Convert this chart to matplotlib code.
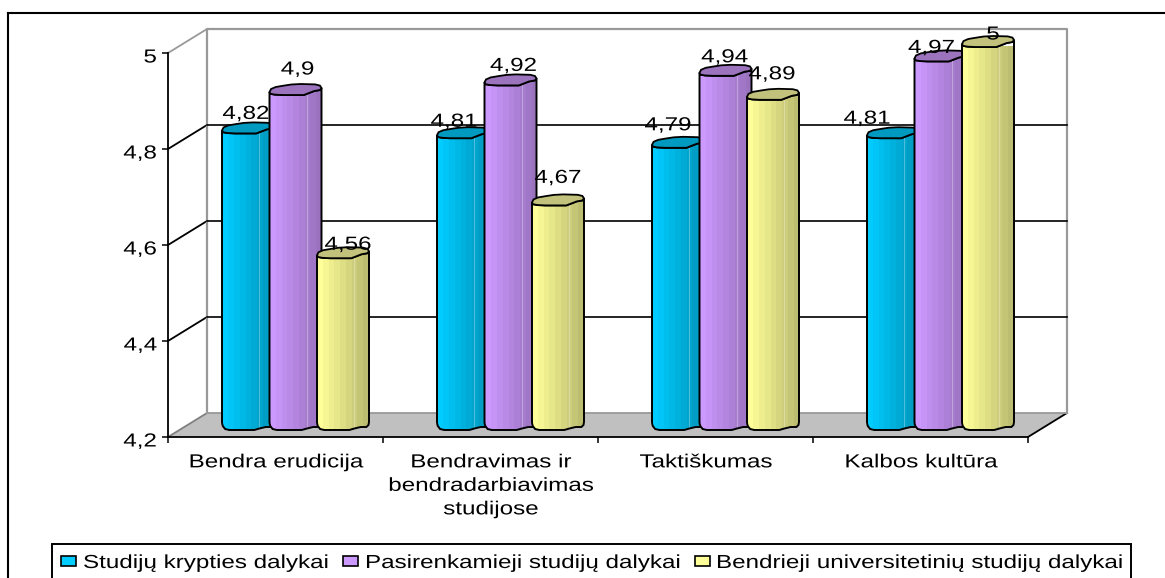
#!/usr/bin/env python3
"""Pseudo-3D cylinder column chart, Excel style."""
import matplotlib

matplotlib.use("Agg")
import matplotlib.pyplot as plt
import numpy as np
from matplotlib.colors import LinearSegmentedColormap
from matplotlib.lines import Line2D
from matplotlib.patches import PathPatch, Polygon, Rectangle
from matplotlib.path import Path
from matplotlib.patheffects import AbstractPathEffect
from matplotlib.transforms import Affine2D

plt.rcParams["font.family"] = ["Liberation Sans", "DejaVu Sans"]

categories = ["Bendra erudicija", "Bendravimas ir\nbendradarbiavimas\nstudijose", "Taktiškumas", "Kalbos kultūra"]
series_names = ["Studijų krypties dalykai", "Pasirenkamieji studijų dalykai", "Bendrieji universitetinių studijų dalykai"]
krypties = [4.82, 4.81, 4.79, 4.81]
pasirenkamieji = [4.9, 4.92, 4.94, 4.97]
bendrieji = [4.56, 4.67, 4.89, 5]
y_ticks = [4.2, 4.4, 4.6, 4.8, 5]
y_labels = ["4,2", "4,4", "4,6", "4,8", "5"]
value_labels = [
    ["4,82", "4,81", "4,79", "4,81"],
    ["4,9", "4,92", "4,94", "4,97"],
    ["4,56", "4,67", "4,89", "5"],
]

# label offsets from the top of each bar, pixels (the original has them hand-placed)
label_dx = [[-2, -9, -10, -26], [2, 3, -1, -9], [5, 0, -1, 5]]
label_dy = [[18, 15, 21, 18], [24, 18, 17, 12], [12, 26, 24, 11]]

# legend layout in pixels: swatch left edge, text left edge
legend_swatch_x = [61, 343, 695]
legend_text_x = [83, 365, 716]

light = ["#00CCFF", "#CC99FF", "#FFFF99"]
dark = ["#0097BD", "#9A72BE", "#BDBD72"]
cap = ["#0099BF", "#9B74BD", "#C2C27C"]

W, H = 1165, 578
FS = 13.6
TEXT_COLOR = "black"
STRETCH = 1.28  # the source image is squeezed vertically, so its Arial runs wide


class StretchX(AbstractPathEffect):
    """Widen a text's glyphs about its left, centre or right edge."""

    def __init__(self, text, anchor="center", sx=STRETCH, dy=0):
        super().__init__()
        self.text, self.anchor, self.sx, self.dy = text, anchor, sx, dy

    def draw_path(self, renderer, gc, tpath, affine, rgbFace=None):
        box = self.text.get_window_extent(renderer)
        px = {"left": box.x0, "center": (box.x0 + box.x1) / 2, "right": box.x1}[self.anchor]
        wide = affine + Affine2D().translate(-px, 0).scale(self.sx, 1).translate(px, self.dy)
        renderer.draw_path(gc, tpath, wide, rgbFace)


def stretch(text, anchor="center", dy=0):
    text.set_path_effects([StretchX(text, anchor, dy=dy)])


def fig_box(left, top, right, bottom):
    return [left / W, 1 - bottom / H, (right - left) / W, (bottom - top) / H]


fig = plt.figure(figsize=(W / 100, H / 100), dpi=100)

# outer chart border, open on the right and bottom
fig.add_artist(Line2D([7.5 / W, 7.5 / W], [0, 1 - 13 / H], color="black", lw=1.5))
fig.add_artist(Line2D([7.5 / W, 1], [1 - 13 / H, 1 - 13 / H], color="black", lw=1.5))

# front plane: real axis, ticks and labels
ax = fig.add_axes(fig_box(168, 53, 1028, 437))
ax.set_xlim(-0.5, 3.5)
ax.set_ylim(4.2, 5)
ax.patch.set_visible(False)
for side in ("top", "right"):
    ax.spines[side].set_visible(False)
for side in ("left", "bottom"):
    ax.spines[side].set_linewidth(1.3)
ax.set_yticks(y_ticks, y_labels, fontsize=FS, color=TEXT_COLOR)
ax.tick_params(axis="y", length=4.5, width=1.1, pad=3.5)
for lab in ax.get_yticklabels():
    stretch(lab, "right", dy=-3)
ax.set_xticks(np.arange(-0.5, 4, 1))
ax.set_xticklabels([])
ax.tick_params(axis="x", length=4.5, width=1.1)
ax.set_xticks(range(4), categories, minor=True, fontsize=FS, color=TEXT_COLOR, linespacing=1.5)
ax.tick_params(axis="x", which="minor", length=0, pad=12.5)
for lab in ax.get_xticklabels(minor=True):
    stretch(lab)

# back wall and floor, the front plane shoved up and to the right
back = ax.transData + Affine2D().translate(39, 24)
x0, x1 = ax.get_xlim()
y0, y1 = ax.get_ylim()
GREY = "#999999"
to_px = ax.transData.transform
fl = np.array([to_px((x0, y0)), to_px((x1, y0)), to_px((x1, y0)) + (39, 24), to_px((x0, y0)) + (39, 24)])
fig.add_artist(Polygon(fl, closed=True, facecolor="#C0C0C0", edgecolor="none", transform=None, zorder=-2))
ax.plot([x0, x0, x1, x1], [y0, y1, y1, y0], transform=back, color=GREY, lw=1.6, clip_on=False, zorder=1)
ax.plot([x0, x1], [y0, y0], transform=back, color=GREY, lw=1.3, clip_on=False, zorder=1)


def side_line(x, y, color):
    p = to_px((x, y))
    fig.add_artist(Line2D([p[0], p[0] + 39], [p[1], p[1] + 24], color=color, lw=1.3, transform=None, zorder=-1))


side_line(x0, y0, "#808080")
side_line(x0, y1, GREY)
side_line(x1, y0, "black")
for t in y_ticks[1:-1]:
    ax.plot([x0, x1], [t, t], transform=back, color="black", lw=1.2, clip_on=False, zorder=1)
    side_line(x0, t, "black")

# bars live mid-way between front and back
ax_bars = fig.add_axes(fig_box(188, 46, 1048, 430))
ax_bars.set_xlim(-0.5, 3.5)
ax_bars.set_ylim(4.2, 5)
ax_bars.axis("off")

PX_X = 1 / 215
PX_Y = 1 / 480
BAR_W = 52 * PX_X
STEP = 47.5 * PX_X

# cylinder outline as (fraction of width, pixels from top/bottom level)
bottom_edge = [(0, -7), (0.015, -4), (0.06, -1), (0.14, 0), (0.45, 0), (0.62, 0), (0.72, -1.5), (0.84, -3), (0.95, -3), (0.99, -5), (1, -8)]
cap_front = [(0, -2), (0.02, -0.2), (0.1, 0.6), (0.25, 1), (0.66, 1), (0.76, -1), (0.86, -3), (0.97, -4), (1, -6)]
cap_back = [(1, -6), (0.97, -8.4), (0.88, -9.6), (0.6, -10), (0.42, -9.5), (0.28, -8.4), (0.12, -7), (0.03, -5), (0, -2)]

all_series = [krypties, pasirenkamieji, bendrieji]
for s, values in enumerate(all_series):
    bars = ax_bars.bar(np.arange(4) + (s - 1) * STEP, np.array(values) - 4.2, BAR_W, bottom=4.2,
                       color=light[s], zorder=3 + s * 3, label=series_names[s])
    cmap = LinearSegmentedColormap.from_list("cyl", [light[s], dark[s]], N=9)
    for i, rect in enumerate(bars):
        left, w, v = rect.get_x(), rect.get_width(), values[i]
        low = [(left + f * w, 4.2 - d * PX_Y) for f, d in bottom_edge]
        top = [(left + f * w, v - d * PX_Y) for f, d in cap_front[::-1]]
        body = PathPatch(Path(low + top + [low[0]]), facecolor="none", edgecolor="black", lw=1.4,
                         zorder=5 + s * 3, clip_on=False)
        ax_bars.add_patch(body)
        shade = ax_bars.imshow(np.linspace(0, 1, 9)[None, :], cmap=cmap, aspect="auto",
                               extent=(left, left + w, 4.2 - 2 * PX_Y, v + 10 * PX_Y), zorder=4 + s * 3)
        # pale seam on the shaded side
        seam = ax_bars.plot([left + 0.72 * w] * 2, [4.2, v], color="white", alpha=0.3, lw=0.8, zorder=4.5 + s * 3)[0]
        for art in (rect, shade, seam):
            art.set_clip_path(body)
            art.set_clip_box(None)
        lid = [(left + f * w, v - d * PX_Y) for f, d in cap_front + cap_back]
        ax_bars.add_patch(Polygon(lid, closed=True, facecolor=cap[s], edgecolor="black", lw=1.3,
                                  zorder=5.5 + s * 3, clip_on=False))
        note = ax_bars.annotate(value_labels[s][i], (left + w / 2, v),
                                xytext=(label_dx[s][i] * 0.72, label_dy[s][i] * 0.72), textcoords="offset points",
                                ha="center", va="center", fontsize=FS, color=TEXT_COLOR, zorder=30)
        stretch(note)
ax_bars.set_xlim(-0.5, 3.5)
ax_bars.set_ylim(4.2, 5)

# legend box runs off the bottom edge, as in the source
fig.add_artist(Rectangle((52 / W, -0.05), (1131 - 52) / W, 1 - 544 / H + 0.05, transform=fig.transFigure,
                         facecolor="white", edgecolor="black", lw=1.4))
for k, name in enumerate(series_names):
    fig.add_artist(Rectangle((legend_swatch_x[k] / W, 1 - 566 / H), 15 / W, 10 / H, transform=fig.transFigure,
                             facecolor=light[k], edgecolor="black", lw=1.2))
    stretch(fig.text(legend_text_x[k] / W, 1 - 568 / H, name, fontsize=FS, color=TEXT_COLOR, va="baseline"), "left")

fig.savefig("out.png", dpi=100)
